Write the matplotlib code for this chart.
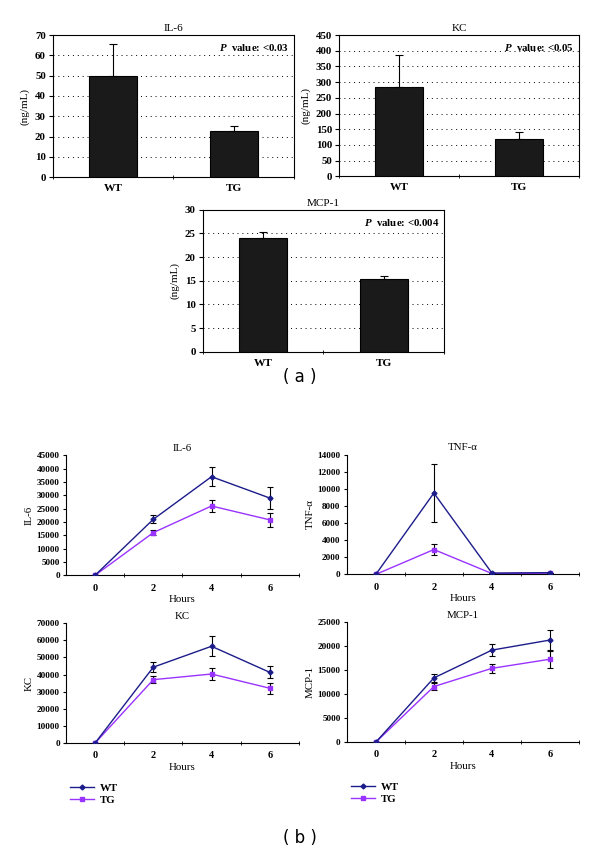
import matplotlib
matplotlib.use('Agg')
import matplotlib.pyplot as plt
from matplotlib.lines import Line2D
import numpy as np

plt.rcParams['font.family'] = 'Liberation Serif'
plt.rcParams['font.weight'] = 'bold'
plt.rcParams['mathtext.fontset'] = 'custom'
plt.rcParams['mathtext.it'] = 'Liberation Serif:italic:bold'
plt.rcParams['mathtext.rm'] = 'Liberation Serif:bold'

# (a) bar charts
groups = ['WT', 'TG']
il6_bar = [50, 23]
il6_bar_err = [15.5, 2.3]
kc_bar = [285, 118]
kc_bar_err = [100, 24]
mcp_bar = [24.1, 15.3]
mcp_bar_err = [1.3, 0.8]

# (b) time course
hours = [0, 2, 4, 6]
il6_wt = [0, 21000, 37000, 29000]
il6_wt_err = [0, 1500, 3500, 4000]
il6_tg = [0, 16000, 26000, 20800]
il6_tg_err = [0, 800, 2400, 2700]
tnf_wt = [0, 9500, 150, 200]
tnf_wt_err = [0, 3400, 0, 0]
tnf_tg = [0, 2900, 100, 150]
tnf_tg_err = [0, 600, 0, 0]
kc_wt = [0, 44300, 56500, 41300]
kc_wt_err = [0, 3000, 5800, 3500]
kc_tg = [0, 37000, 40300, 32000]
kc_tg_err = [0, 2000, 3400, 3200]
mcp_wt = [0, 13400, 19200, 21300]
mcp_wt_err = [0, 900, 1300, 2100]
mcp_tg = [0, 11600, 15400, 17300]
mcp_tg_err = [0, 700, 900, 1800]

WT_COL = '#1c1c8a'
TG_COL = '#9933ff'

fig = plt.figure(figsize=(6, 8.56), dpi=100)


def bar_panel(rect, vals, errs, title, ymax, ystep, pval):
    ax = fig.add_axes(rect)
    x = np.arange(len(groups))
    ax.bar(x, vals, width=0.4, color='#1a1a1a', edgecolor='black', linewidth=0.8, zorder=3)
    ax.errorbar(x, vals, yerr=[np.zeros(len(errs)), errs], fmt='none', ecolor='black',
                elinewidth=0.8, capsize=3, capthick=0.8, zorder=4)
    ax.set_xlim(-0.5, 1.5)
    ax.set_ylim(0, ymax)
    yt = np.arange(0, ymax + ystep / 2, ystep)
    ax.set_yticks(yt)
    ax.set_yticklabels([str(int(v)) for v in yt], fontsize=7.8)
    for v in yt[1:-1]:
        ax.axhline(v, color='black', linestyle=(0, (1, 4)), linewidth=0.7, zorder=1)
    ax.set_xticks(x)
    ax.set_xticklabels(groups, fontsize=8.2)
    ax.tick_params(axis='x', which='major', length=0, pad=5)
    ax.set_xticks([-0.5, 0.5, 1.5], minor=True)
    ax.tick_params(axis='x', which='minor', length=3, direction='inout')
    ax.tick_params(axis='y', length=3, direction='out', pad=2)
    ax.set_title(title, fontsize=8, pad=3)
    ax.set_ylabel('(ng/mL)', fontsize=8, labelpad=4)
    ax.text(0.98, 0.95, r'$\mathit{P}$' + '  value: <' + pval, transform=ax.transAxes,
            ha='right', va='top', fontsize=7.8)
    for s in ax.spines.values():
        s.set_linewidth(0.8)
    return ax


bar_panel([0.088, 0.793, 0.402, 0.166], il6_bar, il6_bar_err, 'IL-6', 70, 10, '0.03')
bar_panel([0.565, 0.794, 0.400, 0.165], kc_bar, kc_bar_err, 'KC', 450, 50, '0.05')
bar_panel([0.338, 0.589, 0.402, 0.166], mcp_bar, mcp_bar_err, 'MCP-1', 30, 5, '0.004')

fig.text(0.5, 1 - 377 / 856, '( a )', ha='center', va='center', fontsize=12,
         family='DejaVu Sans', weight='normal')
fig.text(0.5, 1 - 838 / 856, '( b )', ha='center', va='center', fontsize=12,
         family='DejaVu Sans', weight='normal')


def line_panel(rect, wt, wt_err, tg, tg_err, title, ymax, ystep, legend=False):
    ax = fig.add_axes(rect)
    ax.errorbar(hours, wt, yerr=wt_err, color=WT_COL, marker='D', markersize=2.5,
                linewidth=1.0, ecolor='black', elinewidth=0.8, capsize=2, capthick=0.8,
                label='WT', zorder=3)
    ax.errorbar(hours, tg, yerr=tg_err, color=TG_COL, marker='s', markersize=3.5,
                linewidth=1.0, ecolor='black', elinewidth=0.8, capsize=2, capthick=0.8,
                label='TG', zorder=2)
    ax.set_xlim(-1, 7)
    ax.set_ylim(0, ymax)
    yt = np.arange(0, ymax + ystep / 2, ystep)
    ax.set_yticks(yt)
    ax.set_yticklabels([str(int(v)) for v in yt], fontsize=6.6)
    ax.set_xticks(hours)
    ax.set_xticklabels([str(h) for h in hours], fontsize=7.5)
    ax.tick_params(axis='x', which='major', length=0, pad=6)
    ax.set_xticks([1, 3, 5, 7], minor=True)
    ax.tick_params(axis='x', which='minor', length=2.5, direction='inout')
    ax.tick_params(axis='y', length=2.5, direction='out', pad=2)
    ax.spines['top'].set_visible(False)
    ax.spines['right'].set_visible(False)
    ax.set_title(title, fontsize=7.8, pad=3)
    ax.set_ylabel(title, fontsize=7.8, labelpad=2)
    ax.set_xlabel('Hours', fontsize=7.8, labelpad=2)
    if legend:
        handles = [Line2D([], [], color=WT_COL, marker='D', markersize=2.5, linewidth=1.0),
                   Line2D([], [], color=TG_COL, marker='s', markersize=3.5, linewidth=1.0)]
        ax.legend(handles, ['WT', 'TG'], loc='upper left', bbox_to_anchor=(0.0, -0.30),
                  frameon=False, fontsize=7.8, handlelength=2.2, labelspacing=0.2,
                  borderaxespad=0, handletextpad=0.5)
    return ax


line_panel([0.110, 0.328, 0.388, 0.140], il6_wt, il6_wt_err, il6_tg, il6_tg_err, 'IL-6', 45000, 5000)
line_panel([0.578, 0.329, 0.387, 0.140], tnf_wt, tnf_wt_err, tnf_tg, tnf_tg_err, 'TNF-α', 14000, 2000)
line_panel([0.110, 0.132, 0.388, 0.140], kc_wt, kc_wt_err, kc_tg, kc_tg_err, 'KC', 70000, 10000, legend=True)
line_panel([0.578, 0.133, 0.387, 0.140], mcp_wt, mcp_wt_err, mcp_tg, mcp_tg_err, 'MCP-1', 25000, 5000, legend=True)

fig.savefig('out.png', dpi=100)
